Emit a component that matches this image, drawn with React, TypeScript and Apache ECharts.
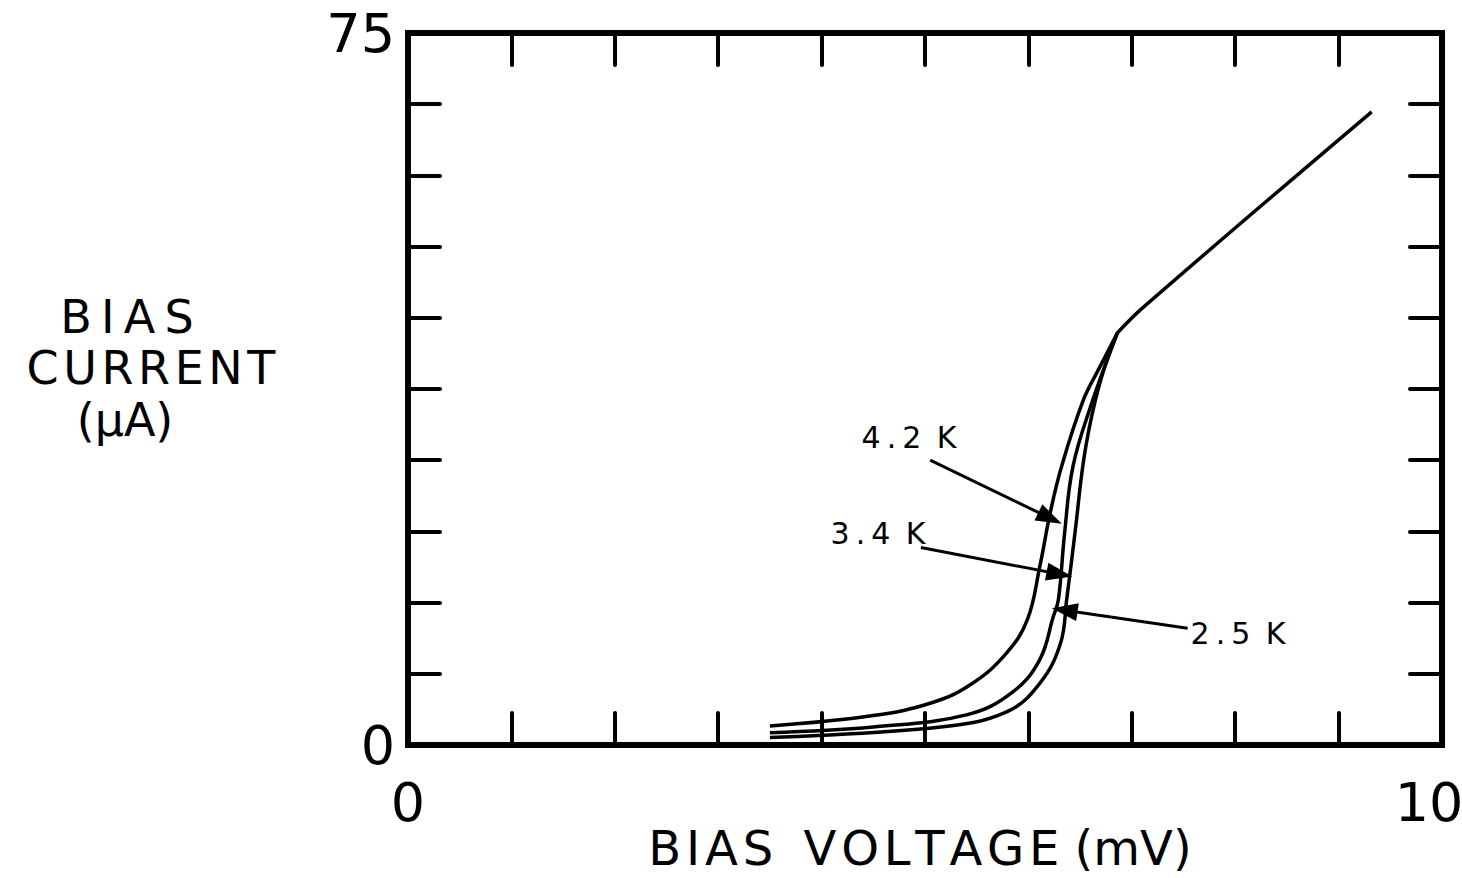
import React, { useEffect, useRef } from "react";
import * as echarts from "echarts";

// Bias voltage (mV) / bias current (µA)
const v42 = [3.5, 4.5, 5.08, 5.46, 5.79, 5.99, 6.11, 6.21, 6.32, 6.53, 6.69, 6.86];
const i42 = [2.0, 3.1, 4.5, 6.5, 9.7, 13.2, 18.8, 24.4, 29.3, 36.3, 39.8, 43.4];
const v34 = [3.5, 4.5, 5.41, 5.85, 6.11, 6.24, 6.29, 6.35, 6.43, 6.6, 6.86];
const i34 = [1.3, 1.9, 3.2, 5.6, 9.0, 13.5, 15.3, 22.3, 29.3, 35.6, 43.4];
const v25 = [3.5, 5.15, 5.79, 6.11, 6.31, 6.37, 6.45, 6.55, 6.69, 6.86];
const i25 = [0.8, 1.9, 3.5, 6.5, 10.7, 15.3, 22.3, 31.1, 38.1, 43.4];
const vNormal = [6.86, 7.11, 9.32];
const iNormal = [43.4, 46.1, 66.7];

const seriesNames = ["4.2K", "3.4K", "2.5K"];
// arrow annotation: [fromV, fromI, toV, toI]
const arrows42 = [5.05, 30.0, 6.21, 23.9];
const arrows34 = [4.96, 20.8, 6.3, 18.0];
const arrows25 = [7.54, 12.3, 6.35, 14.2];

const xTickLabels = ["0", "10"];
const yTickLabels = ["0", "75"];

const zip = (a: number[], b: number[]) => a.map((v, k) => [v, b[k]]);
// spread letters like the hand lettering of the original
const spaced = (s: string, sp: string) => Array.from(s).join(sp);

const FONT = "DejaVu Sans";
const THIN = "\u2009";
const HAIR = "\u200A";

export default function App() {
  const ref = useRef<HTMLDivElement>(null);
  useEffect(() => {
    if (!ref.current) return;
    const chart = echarts.init(ref.current, null, { renderer: "svg" });
    const lineStyle = { color: "#000", width: 3.5 };
    const arrowMark = (a: number[]) => ({
      silent: true,
      symbol: ["none", "triangle"],
      symbolSize: [18, 26],
      label: { show: false },
      lineStyle: { color: "#000", width: 3, type: "solid" },
      emphasis: { disabled: true },
      data: [[{ coord: [a[0], a[1]] }, { coord: [a[2], a[3]] }]],
    });
    const curve = (name: string, data: number[][], arrow?: number[]) => ({
      name,
      type: "line",
      data,
      smooth: 0.4,
      symbol: "none",
      lineStyle,
      silent: true,
      markLine: arrow ? arrowMark(arrow) : undefined,
    });
    const axisCommon = {
      type: "value",
      axisLine: { show: true, onZero: false, lineStyle: { color: "#000", width: 6, cap: "square" } },
      axisTick: { show: true, inside: true, length: 32, lineStyle: { color: "#000", width: 4, cap: "round" } },
      splitLine: { show: false },
    };
    const txt = (text: string, x: number, y: number, size: number, lh?: number) => ({
      type: "text",
      x,
      y,
      style: {
        text,
        font: `${size}px "${FONT}"`,
        lineHeight: lh ?? size,
        fill: "#000",
        align: "center",
        verticalAlign: "middle",
      },
    });
    chart.setOption({
      animation: false,
      backgroundColor: "#fff",
      grid: { left: 408, right: 20, top: 33, bottom: 133, containLabel: false, outerBoundsMode: "none" },
      xAxis: [
        {
          ...axisCommon,
          position: "bottom",
          min: 0,
          max: 10,
          interval: 1,
          axisLabel: {
            margin: 30,
            fontFamily: FONT,
            fontSize: 54,
            color: "#000",
            formatter: (v: number) =>
              v === 0 ? xTickLabels[0] : v === 10 ? "{r|" + xTickLabels[1] + "}" : "",
            rich: { r: { fontFamily: FONT, fontSize: 54, color: "#000", padding: [0, 26, 0, 0] } },
          },
        },
        {
          ...axisCommon,
          position: "top",
          min: 0,
          max: 10,
          interval: 1,
          axisLabel: { show: false },
        },
      ],
      yAxis: [
        {
          ...axisCommon,
          position: "left",
          min: 0,
          max: 75,
          interval: 7.5,
          axisLabel: {
            margin: 13,
            fontFamily: FONT,
            fontSize: 54,
            color: "#000",
            formatter: (v: number) => (v === 0 ? yTickLabels[0] : v === 75 ? yTickLabels[1] : ""),
          },
        },
        {
          ...axisCommon,
          position: "right",
          min: 0,
          max: 75,
          interval: 7.5,
          axisLabel: { show: false },
        },
      ],
      series: [
        curve(seriesNames[0], zip(v42, i42), arrows42),
        curve(seriesNames[1], zip(v34, i34), arrows34),
        curve(seriesNames[2], zip(v25, i25), arrows25),
        curve("normal", zip(vNormal, iNormal)),
      ],
      graphic: [
        txt(spaced("BIAS", THIN), 127, 317, 46, 44),
        txt(spaced("CURRENT", HAIR), 151, 368, 46, 44),
        txt("(µA)", 125, 420, 46, 44),
        txt(spaced("BIAS", HAIR) + "  " + spaced("VOLTAGE", HAIR) + " (mV)", 920, 848, 48, 46),
        txt(spaced("4.2", THIN) + THIN + " K", 909, 437, 30),
        txt(spaced("3.4", THIN) + THIN + " K", 878, 533, 30),
        txt(spaced("2.5", THIN) + THIN + " K", 1238, 633, 30),
      ],
    });
    return () => chart.dispose();
  }, []);
  return (
    <div
      ref={ref}
      style={{ position: "fixed", left: 0, top: 0, width: 1462, height: 878, background: "#fff" }}
    />
  );
}
